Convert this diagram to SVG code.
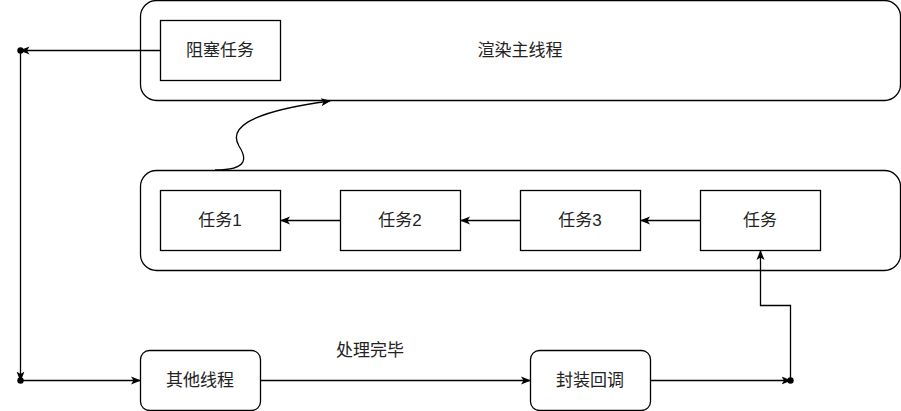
<svg xmlns="http://www.w3.org/2000/svg" width="901" height="411" viewBox="0 0 901 411">
<style>
.box{fill:#fff;stroke:#000;stroke-width:1.3}
.t{font-family:"Liberation Sans","Noto Sans CJK SC",sans-serif;font-size:17px;fill:#222;text-anchor:middle;dominant-baseline:central}
.c{fill:none;stroke:#000;stroke-width:1.3}
</style>
<defs>
<marker id="ah" viewBox="0 0 10 10" refX="9" refY="5" markerWidth="10" markerHeight="10" markerUnits="userSpaceOnUse" orient="auto">
<path d="M0,1 L10,5 L0,9 L2.5,5 Z" fill="#000"/>
</marker>
<marker id="dot" viewBox="0 0 8 8" refX="4" refY="4" markerWidth="7" markerHeight="7" markerUnits="userSpaceOnUse" orient="auto">
<circle cx="4" cy="4" r="3.5" fill="#000"/>
</marker>
</defs>
<g id="main-thread">
<rect class="box" x="140.5" y="0.5" width="760" height="100" rx="16"/>
<text class="t" x="520" y="50">渲染主线程</text>
</g>
<g id="blocked-task">
<rect class="box" x="160.5" y="20.5" width="120" height="60"/>
<text class="t" x="220" y="50">阻塞任务</text>
</g>
<g id="queue">
<rect class="box" x="140.5" y="170.5" width="760" height="100" rx="16"/>
</g>
<g id="task1">
<rect class="box" x="160.5" y="190.5" width="120" height="60"/>
<text class="t" x="220" y="220">任务1</text>
</g>
<g id="task2">
<rect class="box" x="340.5" y="190.5" width="120" height="60"/>
<text class="t" x="400" y="220">任务2</text>
</g>
<g id="task3">
<rect class="box" x="520.5" y="190.5" width="120" height="60"/>
<text class="t" x="580" y="220">任务3</text>
</g>
<g id="task">
<rect class="box" x="700.5" y="190.5" width="120" height="60"/>
<text class="t" x="760" y="220">任务</text>
</g>
<g id="other-thread">
<rect class="box" x="140.5" y="350.5" width="120" height="60" rx="9"/>
<text class="t" x="200" y="380">其他线程</text>
</g>
<g id="callback">
<rect class="box" x="530.5" y="350.5" width="120" height="60" rx="9"/>
<text class="t" x="590" y="380">封装回调</text>
</g>
<g id="connectors">
<path class="c" d="M700.5,220.5 H641" marker-end="url(#ah)"/>
<path class="c" d="M520.5,220.5 H461" marker-end="url(#ah)"/>
<path class="c" d="M340.5,220.5 H281" marker-end="url(#ah)"/>
<path class="c" d="M160.5,50.5 H20.5" marker-end="url(#ah)"/>
<circle cx="20.5" cy="50.5" r="3.2" fill="#000"/>
<path class="c" d="M20.5,50.5 V380.5" marker-end="url(#ah)"/>
<circle cx="20.5" cy="380.5" r="3.2" fill="#000"/>
<path class="c" d="M20.5,380.5 H140" marker-end="url(#ah)"/>
<path class="c" d="M260.5,380.5 H530" marker-end="url(#ah)"/>
<text class="t" x="370" y="350">处理完毕</text>
<path class="c" d="M650.5,380.5 H790.5" marker-end="url(#ah)"/>
<circle cx="790.5" cy="380.5" r="3.2" fill="#000"/>
<path class="c" d="M790.5,380.5 V305.5 H760.5 V251" marker-end="url(#ah)"/>
<path class="c" d="M215,170 C250,170 246,157 239,146 C230,131 240,113 330,101" marker-end="url(#ah)"/>
</g>
</svg>
